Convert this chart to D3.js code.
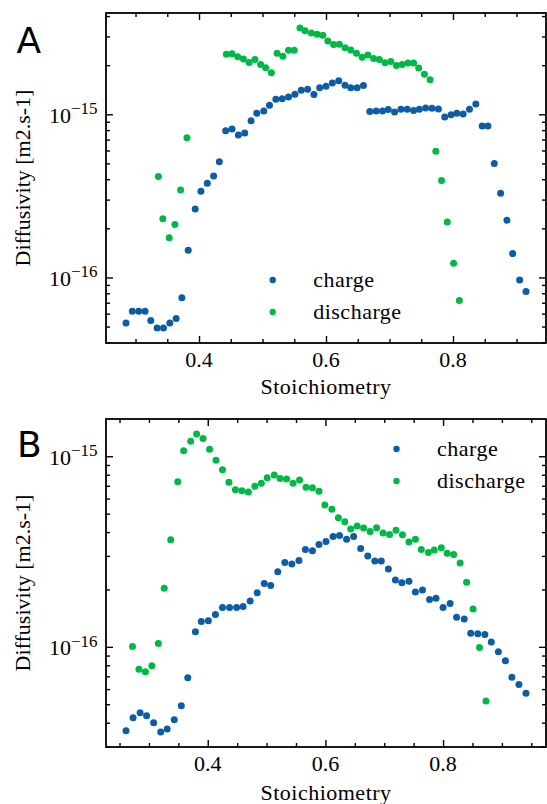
<!DOCTYPE html>
<html>
<head>
<meta charset="utf-8">
<script src="https://cdn.jsdelivr.net/npm/d3@7"></script>
<style>
  body { margin: 0; background: #fff; }
  svg { display: block; }
  svg text { font-family: "Liberation Serif", "Times New Roman", serif; fill: #000; }
  svg text.word { letter-spacing: 0.5px; }
  svg text.tag { font-family: "DejaVu Sans", sans-serif; font-size: 36px; letter-spacing: 0; }
</style>
</head>
<body>
<svg id="chart" width="547" height="804"></svg>
<script>
// ---- data, panel A ----
var aChargeX = [0.285,0.295,0.305,0.315,0.324,0.334,0.344,0.354,0.364,0.373,0.383,0.394,0.403,0.413,0.423,0.432,
  0.442,0.452,0.462,0.472,0.482,0.491,0.502,0.511,0.521,0.531,0.541,0.551,0.561,0.571,0.581,0.590,0.600,0.610,
  0.620,0.630,0.639,0.649,0.659,0.669,0.679,0.689,0.698,0.708,0.718,0.728,0.738,0.747,0.757,0.767,0.777,0.787,
  0.797,0.806,0.816,0.826,0.836,0.846,0.855,0.865,0.875,0.885,0.894,0.905,0.915];
var aChargeD = [5.25e-17,6.2e-17,6.2e-17,6.2e-17,5.45e-17,4.9e-17,4.9e-17,5.25e-17,5.6e-17,7.5e-17,1.47e-16,2.63e-16,
  3.38e-16,3.78e-16,4.18e-16,5.12e-16,7.94e-16,8.13e-16,7.46e-16,7.67e-16,9.14e-16,1.014e-15,1.047e-15,1.135e-15,
  1.236e-15,1.247e-15,1.276e-15,1.327e-15,1.406e-15,1.426e-15,1.321e-15,1.452e-15,1.486e-15,1.556e-15,1.603e-15,
  1.507e-15,1.452e-15,1.452e-15,1.5e-15,1.04e-15,1.047e-15,1.047e-15,1.069e-15,1.033e-15,1.074e-15,1.074e-15,
  1.054e-15,1.074e-15,1.094e-15,1.089e-15,1.079e-15,9.62e-16,9.95e-16,1.014e-15,1.005e-15,1.074e-15,1.156e-15,
  8.47e-16,8.47e-16,5.0e-16,3.28e-16,2.24e-16,1.4e-16,9.64e-17,8.2e-17];
var aDischargeX = [0.336,0.343,0.353,0.362,0.371,0.381,0.443,0.452,0.461,0.470,0.479,0.488,0.497,0.505,0.514,0.523,
  0.532,0.541,0.550,0.559,0.567,0.577,0.586,0.595,0.603,0.612,0.621,0.630,0.639,0.648,0.657,0.666,0.675,0.684,
  0.693,0.702,0.711,0.720,0.729,0.738,0.746,0.755,0.764,0.773,0.782,0.791,0.801,0.810];
var aDischargeD = [4.16e-16,2.29e-16,1.75e-16,2.11e-16,3.44e-16,7.19e-16,2.33e-15,2.35e-15,2.25e-15,2.18e-15,2.08e-15,
  2.17e-15,2.02e-15,1.93e-15,1.8e-15,2.37e-15,2.27e-15,2.47e-15,2.47e-15,3.38e-15,3.25e-15,3.15e-15,3.1e-15,3.05e-15,
  2.81e-15,2.68e-15,2.69e-15,2.56e-15,2.48e-15,2.37e-15,2.24e-15,2.31e-15,2.2e-15,2.17e-15,2.07e-15,2.11e-15,
  1.99e-15,2.02e-15,2.06e-15,2.06e-15,1.92e-15,1.76e-15,1.63e-15,5.94e-16,3.93e-16,2.19e-16,1.22e-16,7.23e-17];

// ---- data, panel B ----
var bChargeX = [0.261,0.273,0.285,0.296,0.308,0.320,0.331,0.343,0.355,0.366,0.379,0.389,0.401,0.413,0.425,0.437,
  0.449,0.460,0.472,0.484,0.496,0.507,0.519,0.531,0.543,0.555,0.566,0.578,0.589,0.601,0.613,0.624,0.636,0.648,
  0.660,0.672,0.684,0.695,0.707,0.719,0.730,0.742,0.753,0.765,0.777,0.788,0.800,0.812,0.823,0.836,0.847,0.859,
  0.871,0.882,0.894,0.906,0.917,0.929,0.941];
var bChargeD = [3.63e-17,4.25e-17,4.51e-17,4.35e-17,4.0e-17,3.57e-17,3.71e-17,4.15e-17,4.91e-17,6.89e-17,1.2e-16,
  1.36e-16,1.37e-16,1.48e-16,1.61e-16,1.61e-16,1.61e-16,1.63e-16,1.74e-16,1.92e-16,2.15e-16,2.1e-16,2.48e-16,
  2.77e-16,2.72e-16,2.84e-16,3.24e-16,3.19e-16,3.44e-16,3.57e-16,3.79e-16,3.84e-16,3.67e-16,3.79e-16,3.28e-16,
  3.0e-16,2.82e-16,2.82e-16,2.56e-16,2.24e-16,2.17e-16,2.21e-16,1.94e-16,1.99e-16,1.77e-16,1.8e-16,1.61e-16,
  1.69e-16,1.43e-16,1.4e-16,1.18e-16,1.17e-16,1.16e-16,1.06e-16,9.42e-17,8.45e-17,6.92e-17,6.34e-17,5.71e-17];
var bDischargeX = [0.272,0.283,0.294,0.305,0.316,0.326,0.337,0.349,0.359,0.371,0.381,0.392,0.403,0.414,0.425,0.436,
  0.447,0.458,0.469,0.480,0.491,0.501,0.513,0.523,0.534,0.545,0.556,0.567,0.578,0.589,0.599,0.611,0.622,0.633,
  0.643,0.654,0.665,0.676,0.687,0.698,0.709,0.720,0.731,0.742,0.753,0.763,0.775,0.785,0.797,0.807,0.818,0.829,
  0.840,0.851,0.862,0.873];
var bDischargeD = [1.005e-16,7.62e-17,7.41e-17,7.96e-17,1.04e-16,2.03e-16,3.65e-16,7.35e-16,1.07e-15,1.2e-15,1.31e-15,
  1.24e-15,1.09e-15,9.53e-16,8.49e-16,7.31e-16,6.67e-16,6.59e-16,6.49e-16,6.95e-16,7.21e-16,7.71e-16,7.98e-16,
  7.65e-16,7.59e-16,7.21e-16,7.5e-16,6.87e-16,6.84e-16,6.55e-16,5.55e-16,5.27e-16,4.75e-16,4.53e-16,4.15e-16,
  4.3e-16,4.2e-16,4.03e-16,4.21e-16,3.96e-16,3.88e-16,4.09e-16,3.87e-16,3.55e-16,3.67e-16,3.24e-16,3.13e-16,
  3.22e-16,3.31e-16,3.1e-16,3.05e-16,2.75e-16,2.18e-16,1.58e-16,9.93e-17,5.19e-17];

var seriesNames = ["charge", "discharge"];
var seriesColors = ["#0C5DA5", "#00B945"];
var xMajorTicks = [0.4, 0.6, 0.8];
var yMajorExps = [-16, -15];
var xLabel = "Stoichiometry";
var yLabel = "Diffusivity [m2.s-1]";

var svg = d3.select("#chart");

function drawPanel(p) {
  var g = svg.append("g");

  // matplotlib-like 5% autoscale margins
  var allX = p.xs.flat(), allY = p.ys.flat();
  var ex = d3.extent(allX), mx = (ex[1] - ex[0]) * 0.05;
  var x = d3.scaleLinear().domain([ex[0] - mx, ex[1] + mx]).range([p.left, p.right]);
  var ey = d3.extent(allY).map(Math.log10), my = (ey[1] - ey[0]) * 0.05;
  var y = d3.scaleLog().domain([Math.pow(10, ey[0] - my), Math.pow(10, ey[1] + my)]).range([p.bottom, p.top]);

  var xMinor = d3.range(0.05, 1.0001, 0.05).map(v => +v.toFixed(2))
    .filter(v => xMajorTicks.indexOf(v) < 0 && v > x.domain()[0] && v < x.domain()[1]);
  var yMinor = [];
  [-18, -17, -16, -15, -14].forEach(e => { for (var m = 2; m <= 9; m++) yMinor.push(m * Math.pow(10, e)); });
  yMinor = yMinor.filter(v => v > y.domain()[0] && v < y.domain()[1]);
  var yMajor = yMajorExps.map(e => Math.pow(10, e));

  // ticks (inward on all four sides)
  function ticks(axis, tr, vals, len) {
    var a = g.append("g").attr("transform", tr)
      .call(axis.tickValues(vals).tickSizeInner(-len).tickSizeOuter(0).tickFormat(""));
    a.select(".domain").remove();
    a.selectAll(".tick line").attr("stroke", "#000").attr("stroke-width", 1.4);
  }
  ticks(d3.axisBottom(x), "translate(0," + p.bottom + ")", xMajorTicks, 7);
  ticks(d3.axisBottom(x), "translate(0," + p.bottom + ")", xMinor, 4);
  ticks(d3.axisTop(x), "translate(0," + p.top + ")", xMajorTicks, 7);
  ticks(d3.axisTop(x), "translate(0," + p.top + ")", xMinor, 4);
  ticks(d3.axisLeft(y), "translate(" + p.left + ",0)", yMajor, 7);
  ticks(d3.axisLeft(y), "translate(" + p.left + ",0)", yMinor, 4);
  ticks(d3.axisRight(y), "translate(" + p.right + ",0)", yMajor, 7);
  ticks(d3.axisRight(y), "translate(" + p.right + ",0)", yMinor, 4);

  // tick labels
  g.selectAll(".xl").data(xMajorTicks).enter().append("text")
    .attr("x", d => x(d)).attr("y", p.bottom + 24)
    .attr("text-anchor", "middle").style("font-size", "22px")
    .text(d => d.toFixed(1));
  var yl = g.selectAll(".yl").data(yMajorExps).enter().append("text")
    .attr("x", p.left - 8.5).attr("y", d => y(Math.pow(10, d)) + 8.5)
    .attr("text-anchor", "end").style("font-size", "22px");
  yl.append("tspan").text("10");
  yl.append("tspan").attr("dy", -8.5).style("font-size", "17px").text(d => "\u2212" + Math.abs(d));

  // axis labels
  g.append("text").attr("class", "word")
    .attr("x", (p.left + p.right) / 2).attr("y", p.xLabelY)
    .attr("text-anchor", "middle").style("font-size", "22px")
    .text(xLabel);
  g.append("text")
    .attr("transform", "translate(29.5," + (p.top + p.bottom) / 2 + ") rotate(-90)")
    .attr("text-anchor", "middle").style("font-size", "22px")
    .text(yLabel);

  // points
  p.xs.forEach(function (xs, k) {
    g.append("g").attr("fill", seriesColors[k])
      .selectAll("circle").data(xs.map((v, i) => [v, p.ys[k][i]])).enter()
      .append("circle")
      .attr("cx", d => x(d[0])).attr("cy", d => y(d[1])).attr("r", 3.5);
  });

  // legend
  seriesNames.forEach(function (name, k) {
    var ly = p.legend.y + k * p.legend.dy;
    g.append("circle").attr("cx", p.legend.x).attr("cy", ly).attr("r", 3.2).attr("fill", seriesColors[k]);
    g.append("text").attr("class", "word").attr("x", p.legend.x + 40.5).attr("y", ly + 7)
      .style("font-size", "22px").text(name);
  });

  // frame
  g.append("rect")
    .attr("x", p.left).attr("y", p.top)
    .attr("width", p.right - p.left).attr("height", p.bottom - p.top)
    .attr("fill", "none").attr("stroke", "#000").attr("stroke-width", 1.8);

  // panel tag
  g.append("text").attr("class", "tag").attr("x", p.tagX).attr("y", p.tagY).text(p.tag);
}

drawPanel({
  tag: "A", tagX: 16.5, tagY: 52.7,
  left: 106, right: 546, top: 13, bottom: 343, xLabelY: 394,
  xs: [aChargeX, aDischargeX], ys: [aChargeD, aDischargeD],
  legend: { x: 272.7, y: 280, dy: 32 }
});
drawPanel({
  tag: "B", tagX: 17, tagY: 457.3,
  left: 106, right: 546, top: 419, bottom: 747, xLabelY: 800,
  xs: [bChargeX, bDischargeX], ys: [bChargeD, bDischargeD],
  legend: { x: 396.5, y: 449, dy: 32 }
});
</script>
</body>
</html>
